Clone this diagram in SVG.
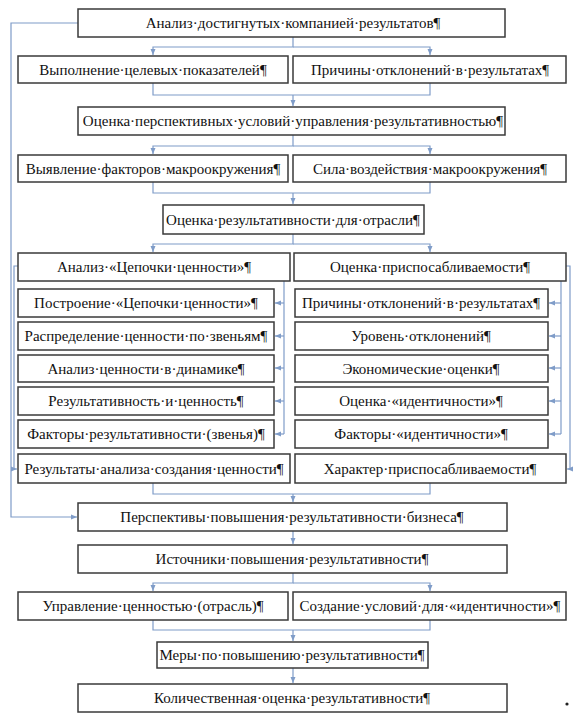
<svg xmlns="http://www.w3.org/2000/svg" width="575" height="715" viewBox="0 0 575 715">
<defs>
<style>
.b{fill:#fff;stroke:#3a3a3a;stroke-width:1.5}
.t{font-family:"Liberation Serif","Times New Roman",serif;font-size:15px;fill:#111;text-anchor:middle}
.c{fill:none;stroke:#7f9cc8;stroke-width:1.2}
.a{marker-end:url(#ah)}
</style>
<marker id="ah" markerUnits="userSpaceOnUse" markerWidth="7" markerHeight="7" refX="6" refY="3" orient="auto">
<path d="M0,0.5 L6,3 L0,5.5 z" fill="#7f9cc8"/>
</marker>
</defs>
<rect width="575" height="715" fill="#fff"/>
<g id="connectors">
<path class="c a" d="M293,37 V47 H153 V55"/>
<path class="c a" d="M293,47 H430 V55"/>
<path class="c" d="M153,83 V95 H430 V83"/>
<path class="c a" d="M293,95 V106"/>
<path class="c a" d="M293,135 V146 H153 V154"/>
<path class="c a" d="M293,146 H430 V154"/>
<path class="c" d="M153,182 V193 H430 V182"/>
<path class="c a" d="M293,193 V204"/>
<path class="c a" d="M293,234 V244 H153 V252"/>
<path class="c a" d="M293,244 H430 V252"/>
<path class="c" d="M284,281 V434"/>
<path class="c a" d="M284,303 H275"/>
<path class="c a" d="M284,336 H275"/>
<path class="c a" d="M284,368 H275"/>
<path class="c a" d="M284,401 H275"/>
<path class="c a" d="M284,434 H275"/>
<path class="c" d="M561,281 V434"/>
<path class="c a" d="M561,303 H549"/>
<path class="c a" d="M561,336 H549"/>
<path class="c a" d="M561,368 H549"/>
<path class="c a" d="M561,401 H549"/>
<path class="c a" d="M561,434 H549"/>
<path class="c a" d="M18,266 H14 V469 H17"/>
<path class="c a" d="M566,266 H570 V469 H567"/>
<path class="c" d="M153,483 V494 H430 V483"/>
<path class="c a" d="M293,494 V502"/>
<path class="c a" d="M78,23 H11 V517 H77"/>
<path class="c a" d="M293,531 V544"/>
<path class="c a" d="M293,573 V583 H153 V591"/>
<path class="c a" d="M293,583 H430 V591"/>
<path class="c" d="M153,620 V630 H430 V620"/>
<path class="c a" d="M293,630 V641"/>
<path class="c a" d="M293,668 V683"/>
</g>
<g id="n1"><rect class="b" x="78" y="9" width="427" height="28"/><text class="t" x="293" y="28">Анализ·достигнутых·компанией·результатов¶</text></g>
<g id="n2"><rect class="b" x="18" y="56" width="270" height="27"/><text class="t" x="153" y="74.5">Выполнение·целевых·показателей¶</text></g>
<g id="n3"><rect class="b" x="293" y="56" width="273" height="27"/><text class="t" x="430" y="74.5">Причины·отклонений·в·результатах¶</text></g>
<g id="n4"><rect class="b" x="78" y="107" width="427" height="28"/><text class="t" x="293" y="126">Оценка·перспективных·условий·управления·результативностью¶</text></g>
<g id="n5"><rect class="b" x="18" y="155" width="270" height="27"/><text class="t" x="153" y="173.5">Выявление·факторов·макроокружения¶</text></g>
<g id="n6"><rect class="b" x="293" y="155" width="273" height="27"/><text class="t" x="430" y="173.5">Сила·воздействия·макроокружения¶</text></g>
<g id="n7"><rect class="b" x="163" y="205" width="261" height="29"/><text class="t" x="293" y="224.5">Оценка·результативности·для·отрасли¶</text></g>
<g id="n8"><rect class="b" x="18" y="253" width="272" height="28"/><text class="t" x="154" y="272">Анализ·«Цепочки·ценности»¶</text></g>
<g id="n9"><rect class="b" x="294" y="253" width="272" height="28"/><text class="t" x="430" y="272">Оценка·приспосабливаемости¶</text></g>
<g id="n10"><rect class="b" x="18" y="289" width="256" height="28"/><text class="t" x="146" y="308">Построение·«Цепочки·ценности»¶</text></g>
<g id="n11"><rect class="b" x="18" y="322" width="256" height="28"/><text class="t" x="146" y="341">Распределение·ценности·по·звеньям¶</text></g>
<g id="n12"><rect class="b" x="18" y="355" width="256" height="27"/><text class="t" x="146" y="373.5">Анализ·ценности·в·динамике¶</text></g>
<g id="n13"><rect class="b" x="18" y="387" width="256" height="28"/><text class="t" x="146" y="406">Результативность·и·ценность¶</text></g>
<g id="n14"><rect class="b" x="18" y="420" width="256" height="28"/><text class="t" x="146" y="439">Факторы·результативности·(звенья)¶</text></g>
<g id="n15"><rect class="b" x="18" y="454" width="272" height="29"/><text class="t" x="154" y="473.5">Результаты·анализа·создания·ценности¶</text></g>
<g id="n16"><rect class="b" x="295" y="289" width="253" height="28"/><text class="t" x="421" y="308">Причины·отклонений·в·результатах¶</text></g>
<g id="n17"><rect class="b" x="295" y="322" width="253" height="28"/><text class="t" x="421" y="341">Уровень·отклонений¶</text></g>
<g id="n18"><rect class="b" x="295" y="355" width="253" height="27"/><text class="t" x="421" y="373.5">Экономические·оценки¶</text></g>
<g id="n19"><rect class="b" x="295" y="387" width="253" height="28"/><text class="t" x="421" y="406">Оценка·«идентичности»¶</text></g>
<g id="n20"><rect class="b" x="295" y="420" width="253" height="28"/><text class="t" x="421" y="439">Факторы·«идентичности»¶</text></g>
<g id="n21"><rect class="b" x="295" y="454" width="271" height="29"/><text class="t" x="430" y="473.5">Характер·приспосабливаемости¶</text></g>
<g id="n22"><rect class="b" x="78" y="503" width="429" height="28"/><text class="t" x="292" y="522">Перспективы·повышения·результативности·бизнеса¶</text></g>
<g id="n23"><rect class="b" x="78" y="545" width="429" height="28"/><text class="t" x="292" y="564">Источники·повышения·результативности¶</text></g>
<g id="n24"><rect class="b" x="18" y="592" width="270" height="28"/><text class="t" x="153" y="611">Управление·ценностью·(отрасль)¶</text></g>
<g id="n25"><rect class="b" x="293" y="592" width="273" height="28"/><text class="t" x="430" y="611">Создание·условий·для·«идентичности»¶</text></g>
<g id="n26"><rect class="b" x="157" y="642" width="271" height="26"/><text class="t" x="292" y="660">Меры·по·повышению·результативности¶</text></g>
<g id="n27"><rect class="b" x="78" y="684" width="429" height="28"/><text class="t" x="292" y="703">Количественная·оценка·результативности¶</text></g>
<circle cx="567" cy="704" r="1.6" fill="#222"/>
</svg>
